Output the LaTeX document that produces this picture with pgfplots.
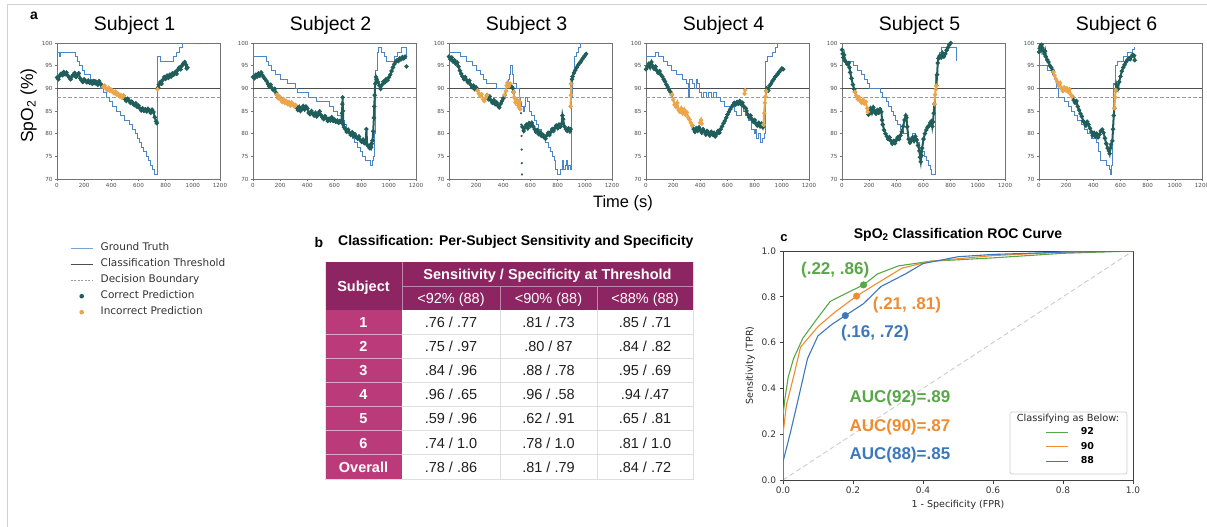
\documentclass[border=0pt]{standalone}
\usepackage{fontspec}
\setmainfont{Liberation Sans}
\newfontfamily\dv{DejaVu Sans}
\usepackage{pgfplots}
\pgfplotsset{compat=1.18}

\definecolor{gtblue}{HTML}{4A86C8}
\definecolor{predteal}{HTML}{1F5E5A}
\definecolor{predorange}{HTML}{EBA54A}
\definecolor{thrgray}{HTML}{4D4D4D}
\definecolor{bndgray}{HTML}{9A9A9A}
\definecolor{hdr}{HTML}{8C2561}
\definecolor{subjc}{HTML}{BB3B7A}
\definecolor{rocgreen}{HTML}{58A847}
\definecolor{rocorange}{HTML}{F08C30}
\definecolor{rocblue}{HTML}{3B78BC}

\pgfplotsset{
  subjax/.style={
    scale only axis, width=163pt, height=136pt,
    xmin=0, xmax=1200, ymin=70, ymax=100,
    xtick={0,200,400,600,800,1000,1200}, ytick={70,75,80,85,90,95,100},
    tick align=outside, xtick pos=bottom, ytick pos=left,
    major tick length=2pt,
    tick style={black!55, line width=0.5pt},
    axis line style={black!55, line width=0.6pt},
    tick label style={font=\dv\fontsize{5.6}{6}\selectfont, text=black!70},
    /pgf/number format/assume math mode=true,
    /pgf/number format/set thousands separator={},
    xticklabel style={yshift=1pt}, yticklabel style={xshift=1pt},
    title style={font=\fontsize{19.5}{22}\selectfont, yshift=-1pt, xshift=-4pt},
    anchor=south west,
    unbounded coords=jump,
  },
  gt/.style={gtblue, line width=0.9pt, const plot, no marks},
  pr/.style={predteal, line width=2pt, mark=*, mark size=1pt},
  wr/.style={predorange, line width=2pt, mark=*, mark size=1pt},
  thr/.style={thrgray, line width=1.6pt, no marks},
  bnd/.style={bndgray, line width=0.9pt, dash pattern=on 3.5pt off 2pt, no marks},
}

\newcommand\trow[5]{%
 \node[anchor=base, text=white, font=\bfseries\fontsize{14.5}{17}\selectfont] at (363.5pt,-#1pt) {#2};
 \node[anchor=base, text=black!88, font=\fontsize{14.5}{17}\selectfont] at (451pt,-#1pt) {#3};
 \node[anchor=base, text=black!88, font=\fontsize{14.5}{17}\selectfont] at (548.5pt,-#1pt) {#4};
 \node[anchor=base, text=black!88, font=\fontsize{14.5}{17}\selectfont] at (645pt,-#1pt) {#5};}

\begin{document}
\begin{tikzpicture}
\path[use as bounding box] (0pt,0pt) rectangle (1207pt,-527pt);
\draw[black!18, line width=0.8pt] (7pt,-527pt) -- (7pt,-4pt) -- (1207pt,-4pt);

% ---------------- panel a ----------------
\node[font=\bfseries\fontsize{14}{16}\selectfont] at (34pt,-16pt) {a};
\node[rotate=90, anchor=base, font=\fontsize{17.5}{20}\selectfont] at (33pt,-105.7pt) {SpO\textsubscript{2} (\%)};
\node[anchor=base, font=\fontsize{16.5}{19}\selectfont] at (623pt,-207.5pt) {Time (s)};

% Subject 1
\begin{axis}[subjax, at={(57pt,-179pt)}, title={Subject 1}]
\addplot[thr] coordinates {(0,90)(1200,90)};
\addplot[bnd] coordinates {(0,88)(1200,88)};
\addplot[gt] coordinates {(0,98)(15,97)(25,98)(135,97)(150,96)(165,95)(185,94)(205,93)(245,92)(285,91)(320,90)(345,89)(365,88)(385,87)(410,86)(440,85)(465,84)(495,83)(530,82)(555,81)(575,80)(590,79)(610,78)(625,77)(640,76)(655,75)(670,74)(690,73)(705,72)(720,71)(740,97)(760,96)(860,97)(880,98)(900,99)(920,100)(1030,100)};
\addplot[pr] coordinates {(0,92.4)(10,92.0)(20,92.8)(30,93.2)(40,92.9)(50,93.6)(60,93.1)(70,93.5)(80,92.8)(90,92.4)(100,92.0)(110,92.6)(120,93.0)(130,93.4)(140,92.5)(150,92.9)(160,93.3)(170,92.2)(180,91.8)(190,91.4)(200,92.0)(210,91.6)(220,91.3)(230,91.7)(240,91.2)(250,91.5)(260,91.0)(270,91.6)(280,91.1)(290,91.4)(300,90.8)(310,91.6)(320,91.0)(330,90.6)(340,90.3)(340,nan)
(490,88.4)(500,87.6)(510,87.2)(520,87.7)(530,87.3)(540,86.8)(550,87.1)(560,86.6)(570,86.3)(580,86.7)(590,85.9)(600,86.2)(610,85.6)(620,85.1)(630,85.6)(640,85.0)(650,85.4)(660,84.9)(670,85.5)(680,85.1)(690,84.6)(700,85.3)(710,84.8)(720,83.6)(730,82.7)(735,82.3)(735,nan)
(745,90.2)(750,90.8)(760,91.4)(770,91.0)(780,91.9)(790,92.5)(800,92.1)(810,92.8)(820,92.3)(830,93.0)(840,92.6)(850,93.3)(860,93.0)(870,93.6)(880,93.2)(890,94.1)(900,94.6)(910,94.2)(920,95.0)(930,95.5)(940,95.8)(950,95.2)(955,94.4)(960,94.6)};
\addplot[wr] coordinates {(340,90.3)(350,90.6)(360,90.0)(370,89.6)(380,90.1)(390,89.4)(400,89.7)(410,89.2)(420,88.9)(430,89.3)(440,88.6)(450,88.8)(460,88.2)(470,88.5)(480,87.9)(490,88.4)(490,nan)(740,89.8)};
\end{axis}

% Subject 2
\begin{axis}[subjax, at={(253pt,-179pt)}, title={Subject 2}]
\addplot[thr] coordinates {(0,90)(1200,90)};
\addplot[bnd] coordinates {(0,88)(1200,88)};
\addplot[gt] coordinates {(0,97)(100,96)(115,95)(135,94)(165,93)(200,92)(250,91)(310,90)(330,89)(410,88)(470,87)(560,86)(590,85)(620,84)(650,83)(675,82)(690,81)(710,80)(730,79)(750,78)(770,77)(790,76)(805,75)(825,74)(862,73)(878,74)(890,75)(895,80)(900,88)(905,94)(915,98)(925,99)(945,98)(965,97)(985,96)(1045,97)(1065,98)(1090,99)(1127,96.5)};
\addplot[pr] coordinates {(0,92.5)(10,92.2)(20,93.0)(30,92.6)(40,93.3)(50,92.8)(60,93.5)(70,92.9)(80,92.4)(90,92.0)(100,91.6)(110,91.0)(120,90.4)(130,90.8)(140,90.0)(150,89.6)(160,89.9)(170,89.0)(175,88.6)(175,nan)
(312,86.3)(320,85.8)(330,85.2)(340,85.9)(350,85.0)(360,85.5)(370,86.1)(380,85.3)(390,86.0)(400,85.6)(410,84.6)(420,84.3)(430,85.0)(440,84.4)(450,84.0)(460,84.6)(470,83.8)(480,84.3)(490,84.9)(500,84.1)(510,83.6)(520,83.2)(530,83.9)(540,83.4)(550,82.8)(560,83.3)(570,82.9)(580,83.6)(590,82.8)(600,83.1)(610,82.6)(620,82.9)(630,82.4)(640,82.8)(650,82.5)(655,84.5)(658,86.5)(660,88.0)(662,85.0)(665,82.0)(670,81.4)(680,81.0)(690,80.4)(700,80.9)(710,80.2)(720,79.7)(730,80.3)(740,79.5)(750,79.9)(760,79.2)(770,78.9)(780,79.4)(790,78.6)(800,78.2)(810,78.7)(820,77.9)(830,78.4)(835,81.0)(840,77.6)(850,77.2)(860,76.8)(865,77.5)(870,77.0)(875,77.8)(880,78.5)(885,80.5)(890,83.5)(893,86.0)(896,88.5)(900,91.0)(905,92.5)(910,92.0)(920,91.4)(930,90.6)(940,89.9)(950,90.8)(960,91.5)(970,91.3)(980,92.0)(990,91.8)(1000,92.4)(1010,93.0)(1020,93.8)(1030,94.6)(1040,95.3)(1050,95.8)(1060,96.2)(1070,96.0)(1080,96.6)(1090,96.4)(1100,96.9)(1110,96.6)(1120,97.0)(1120,nan)(1130,94.8)};
\addplot[wr] coordinates {(175,88.6)(185,87.8)(195,88.2)(205,87.4)(215,87.0)(225,87.6)(235,86.8)(245,87.2)(255,86.5)(265,87.0)(275,86.2)(285,86.9)(295,86.4)(305,86.0)(312,86.3)};
\end{axis}

% Subject 3
\begin{axis}[subjax, at={(449pt,-179pt)}, title={Subject 3}]
\addplot[thr] coordinates {(0,90)(1200,90)};
\addplot[bnd] coordinates {(0,88)(1200,88)};
\addplot[gt] coordinates {(0,98)(85,97)(130,96)(175,95)(205,94)(230,93)(255,92)(275,91)(350,90)(420,91)(435,92)(445,93)(455,95)(465,93)(475,91)(500,90)(515,88)(525,87)(535,86)(545,85)(555,86)(565,88)(580,87)(595,85)(610,84)(630,83)(645,82)(660,81)(680,80)(695,79)(710,78)(730,77)(750,76)(765,75)(775,74)(785,72)(795,71)(820,72)(835,74)(845,72)(855,73)(862,74)(870,72)(880,73)(893,72)(900,80)(905,88)(910,93)(920,97)(935,98)(950,99)(965,100)(1010,100)};
\addplot[pr] coordinates {(0,97.0)(10,96.4)(20,96.8)(30,95.9)(40,96.2)(50,95.4)(60,95.7)(70,94.8)(80,93.9)(90,93.2)(100,92.6)(110,92.0)(120,92.5)(130,91.8)(140,91.3)(150,91.7)(160,90.8)(170,90.2)(180,90.6)(190,89.8)(200,90.2)(210,89.5)(210,nan)
(280,88.5)(290,87.6)(300,88.2)(310,87.3)(320,86.8)(330,87.4)(340,86.5)(350,86.9)(360,86.2)(370,85.8)(380,86.6)(390,87.2)(400,87.8)(410,88.5)(410,nan)
(450,91.0)(460,90.4)(470,90.0)(475,89.2)(475,nan)
(540,81.5)(550,80.6)(560,81.4)(570,82.0)(580,81.2)(590,82.3)(600,81.7)(610,82.4)(620,81.6)(630,81.0)(640,80.4)(650,80.8)(660,79.9)(670,80.3)(680,79.5)(690,79.8)(700,79.2)(710,78.9)(720,79.6)(730,80.2)(740,79.7)(750,80.4)(760,81.0)(770,80.6)(780,81.3)(790,81.8)(800,81.2)(810,82.0)(820,81.5)(830,82.2)(835,84.0)(840,83.2)(850,81.6)(860,81.0)(870,80.6)(880,81.2)(890,80.5)(895,81.0)(895,nan)
(900,91.0)(905,92.0)(910,92.6)(920,93.4)(930,94.0)(940,94.6)(950,95.1)(960,95.5)(970,95.9)(980,96.4)(990,96.8)(1000,97.2)(1010,97.6)};
\addplot[predteal, only marks, mark=*, mark size=0.9pt] coordinates {(530,84.5)(532,82)(534,79.5)(535,76.5)(536,73.5)(537,71)};
\addplot[wr] coordinates {(210,89.5)(220,88.8)(230,88.3)(240,88.7)(250,87.6)(260,87.2)(270,87.9)(280,88.5)(280,nan)
(410,88.5)(420,89.4)(425,90.6)(430,91.2)(440,90.5)(450,91.0)(450,nan)
(475,89.2)(480,88.0)(490,86.8)(500,87.5)(510,86.2)(515,85.8)(520,87.0)(525,85.4)(525,nan)
(895,86.0)(898,88.5)(900,91.0)};
\end{axis}

% Subject 4
\begin{axis}[subjax, at={(646pt,-179pt)}, title={Subject 4}]
\addplot[thr] coordinates {(0,90)(1200,90)};
\addplot[bnd] coordinates {(0,88)(1200,88)};
\addplot[gt] coordinates {(0,97)(70,98)(90,97)(130,96)(155,95)(190,94)(225,93)(265,92)(300,91)(310,88)(318,92)(340,91)(355,90)(368,92)(380,91)(395,89)(410,88)(425,89)(445,88)(460,89)(480,88)(500,89)(520,88)(545,87)(575,86)(650,85)(665,84)(700,86)(715,85)(735,84)(755,83)(775,81)(795,80)(805,81)(815,79)(830,80)(845,78)(860,79)(870,80)(880,96)(895,97)(930,98)(955,99)(970,100)(1010,100)};
\addplot[pr] coordinates {(0,94.2)(10,94.8)(20,95.4)(30,94.6)(40,95.8)(50,94.9)(60,94.3)(70,94.8)(80,93.9)(90,93.4)(100,93.8)(110,93.0)(120,92.6)(130,92.0)(140,91.5)(150,90.8)(160,90.3)(170,89.6)(180,89.2)(190,88.6)(190,nan)
(340,81.8)(350,81.0)(360,80.4)(370,81.2)(380,80.6)(390,81.4)(400,80.8)(410,80.2)(420,81.0)(430,80.5)(440,79.8)(450,80.6)(460,80.1)(470,79.6)(480,80.4)(490,79.8)(500,80.2)(510,79.4)(520,79.9)(530,80.6)(540,80.2)(550,81.0)(560,81.6)(570,82.3)(580,82.8)(590,83.5)(600,84.2)(610,84.8)(620,85.4)(630,85.9)(640,86.3)(650,86.8)(660,86.4)(670,87.0)(680,86.6)(690,87.2)(700,86.5)(710,86.8)(720,86.0)(735,85.6)(740,85.0)(750,84.2)(760,83.6)(770,84.0)(780,83.2)(790,82.6)(800,83.0)(810,82.2)(820,81.8)(830,82.4)(840,81.6)(850,82.2)(860,81.4)(865,82.0)(865,nan)
(885,89.4)(890,90.0)(900,89.5)(910,90.6)(920,91.0)(930,91.6)(940,92.0)(950,92.5)(960,92.8)(970,93.2)(980,93.6)(990,94.0)(1000,94.4)(1010,94.2)};
\addplot[wr] coordinates {(190,88.6)(200,87.5)(210,86.4)(220,85.9)(230,86.8)(240,85.2)(250,84.8)(260,85.6)(270,84.5)(280,85.3)(290,84.2)(300,84.7)(310,83.6)(320,83.1)(330,82.4)(340,81.8)(340,nan)
(398,82.4)(405,83.0)(410,82.2)(410,nan)
(725,88.8)(730,89.6)(730,nan)
(865,82.0)(870,84.5)(875,86.8)(880,88.2)(885,89.4)};
\end{axis}

% Subject 5
\begin{axis}[subjax, at={(842pt,-179pt)}, title={Subject 5}]
\addplot[thr] coordinates {(0,90)(1200,90)};
\addplot[bnd] coordinates {(0,88)(1200,88)};
\addplot[gt] coordinates {(0,97)(8,96)(85,95)(115,94)(140,93)(165,92)(185,91)(200,90)(280,89)(300,88)(325,87)(345,86)(365,85)(380,84)(395,83)(410,82)(430,81)(455,80)(490,79)(520,80)(540,79)(555,78)(570,77)(590,76)(610,75)(625,74)(640,73)(650,72)(660,71)(685,80)(690,93)(700,97)(715,98)(735,99)(830,99)(840,96)};
\addplot[pr] coordinates {(0,98.5)(5,97.6)(10,96.8)(15,97.4)(20,96.2)(30,95.8)(40,95.3)(50,95.6)(55,94.6)(60,93.5)(70,92.2)(80,90.8)(90,89.8)(95,89.2)(95,nan)
(195,84.2)(200,84.8)(210,85.6)(220,84.6)(230,85.8)(240,85.0)(250,84.4)(260,85.2)(270,84.6)(280,85.4)(290,84.8)(295,83.0)(300,82.0)(310,80.8)(320,80.0)(330,79.4)(340,78.8)(350,79.2)(360,78.4)(370,77.8)(380,78.4)(390,77.9)(400,78.6)(410,79.2)(420,78.8)(430,79.6)(440,80.4)(450,81.6)(460,83.0)(470,84.0)(475,83.5)(480,81.5)(490,78.8)(500,78.0)(510,78.6)(520,79.2)(530,78.4)(540,79.4)(550,78.6)(560,77.4)(570,76.2)(575,74.8)(580,73.8)(585,75.2)(590,76.8)(600,78.8)(610,80.0)(620,80.8)(630,81.4)(640,81.8)(650,82.4)(660,82.8)(665,81.6)(670,82.6)(675,84.5)(680,86.5)(680,nan)
(695,90.6)(700,93.0)(705,95.6)(710,96.6)(720,97.2)(730,96.8)(740,97.8)(750,97.0)(760,97.6)(770,98.4)(780,99.0)(790,99.6)(800,100)};
\addplot[wr] coordinates {(95,89.2)(105,88.4)(115,87.6)(125,88.0)(135,87.2)(145,86.8)(155,87.5)(165,86.6)(175,87.0)(185,85.6)(190,84.8)(190,nan)
(680,86.5)(685,88.6)(690,89.8)(695,90.6)};
\end{axis}

% Subject 6
\begin{axis}[subjax, at={(1039pt,-179pt)}, title={Subject 6}]
\addplot[thr] coordinates {(0,90)(1200,90)};
\addplot[bnd] coordinates {(0,88)(1200,88)};
\addplot[gt] coordinates {(0,95)(60,94)(100,93)(115,92)(130,90)(140,88)(185,87)(215,86)(240,85)(260,84)(285,83)(310,82)(335,81)(360,80)(385,79)(420,78)(440,76)(455,74)(500,73)(515,72)(525,71)(532,73)(540,82)(550,91)(560,95)(580,96)(620,97)(650,98)(690,98.5)(700,99)(705,99)};
\addplot[pr] coordinates {(0,98.0)(5,98.8)(10,99.3)(15,98.6)(20,99.6)(25,98.9)(30,98.3)(40,97.6)(45,98.2)(50,97.0)(60,96.3)(70,95.8)(80,95.0)(90,94.6)(100,94.0)(105,93.6)(105,nan)
(245,88.2)(255,87.4)(265,86.8)(275,87.2)(285,86.0)(295,85.2)(305,84.4)(315,83.8)(325,82.8)(335,82.4)(345,81.8)(355,82.6)(365,82.0)(375,81.2)(385,80.4)(395,79.6)(405,80.2)(415,79.4)(425,80.0)(435,79.2)(445,79.8)(455,80.6)(465,80.9)(475,80.2)(485,79.0)(495,77.8)(505,76.8)(515,76.2)(520,75.6)(525,76.8)(530,77.6)(540,78.4)(545,81.0)(550,84.0)(555,85.6)(555,nan)
(565,89.6)(570,90.8)(575,90.2)(580,89.8)(590,91.4)(600,92.6)(610,93.8)(620,94.6)(630,95.2)(640,95.8)(650,96.2)(660,96.6)(670,96.4)(680,97.0)(690,97.4)(700,97.2)(705,96.2)};
\addplot[wr] coordinates {(105,93.6)(115,92.8)(125,92.0)(135,91.4)(145,90.6)(155,91.2)(165,90.0)(175,89.4)(185,90.2)(195,89.6)(205,90.0)(215,89.2)(225,89.8)(235,88.6)(245,88.2)(245,nan)
(555,85.6)(560,88.0)(565,89.6)};
\end{axis}

% ---------------- legend of panel a ----------------
\begin{axis}[at={(70pt,-240pt)}, anchor=north west, hide axis, scale only axis, width=10pt, height=10pt,
  xmin=0, xmax=1, ymin=0, ymax=1,
  legend style={at={(0,1)}, anchor=north west, draw=none, fill=none, inner sep=0pt,
    font=\dv\fontsize{10.5}{12}\selectfont, text=black!80, legend cell align=left,
    nodes={text height=7.8pt, text depth=2.4pt, inner ysep=2.9pt, inner xsep=0pt}}]
\addlegendimage{legend image code/.code={\draw[gtblue!75, line width=1pt] (0pt,0pt)--(22pt,0pt); \path[draw=none, fill=none] (0pt,0pt)--(30pt,0pt);}}
\addlegendentry{Ground Truth}
\addlegendimage{legend image code/.code={\draw[thrgray, line width=1pt] (0pt,0pt)--(22pt,0pt); \path[draw=none, fill=none] (0pt,0pt)--(30pt,0pt);}}
\addlegendentry{Classification Threshold}
\addlegendimage{legend image code/.code={\draw[bndgray, line width=0.7pt, dash pattern=on 2pt off 1.5pt] (0pt,0pt)--(22pt,0pt); \path[draw=none, fill=none] (0pt,0pt)--(30pt,0pt);}}
\addlegendentry{Decision Boundary}
\addlegendimage{legend image code/.code={\fill[predteal, draw=none] (11pt,0pt) circle (2.3pt); \path[draw=none, fill=none] (0pt,0pt)--(30pt,0pt);}}
\addlegendentry{Correct Prediction}
\addlegendimage{legend image code/.code={\fill[predorange, draw=none] (11pt,0pt) circle (2.3pt); \path[draw=none, fill=none] (0pt,0pt)--(30pt,0pt);}}
\addlegendentry{Incorrect Prediction}
\end{axis}

% ---------------- panel b: table ----------------
\node[font=\bfseries\fontsize{14}{16}\selectfont] at (319pt,-242pt) {b};
\node[anchor=west, inner sep=0pt, font=\bfseries\fontsize{14}{16}\selectfont] at (338pt,-242pt) {Classification: Per-Subject Sensitivity and Specificity};
\fill[hdr] (325pt,-262pt) rectangle (693pt,-310pt);
\fill[subjc] (325pt,-310pt) rectangle (402pt,-479pt);
\draw[white!45!hdr, line width=0.8pt] (402pt,-262pt) -- (402pt,-310pt);
\draw[white!45!hdr, line width=0.8pt] (402pt,-286pt) -- (693pt,-286pt);
\draw[white!45!hdr, line width=0.8pt] (500pt,-286pt) -- (500pt,-310pt);
\draw[white!45!hdr, line width=0.8pt] (597pt,-286pt) -- (597pt,-310pt);
\foreach \yy in {334.14,358.29,382.43,406.57,430.71,454.86}{
  \draw[white!55!subjc, line width=0.8pt] (325pt,-\yy pt) -- (402pt,-\yy pt);
  \draw[black!13, line width=0.8pt] (402pt,-\yy pt) -- (693pt,-\yy pt);
}
\draw[black!13, line width=0.8pt] (500pt,-310pt) -- (500pt,-479pt);
\draw[black!13, line width=0.8pt] (597pt,-310pt) -- (597pt,-479pt);
\draw[black!13, line width=0.8pt] (325pt,-479pt) -- (693pt,-479pt) -- (693pt,-262pt);
\draw[black!10, line width=0.6pt] (325pt,-262pt) -- (325pt,-479pt);
\node[anchor=base, text=white, font=\bfseries\fontsize{14.5}{17}\selectfont] at (363.5pt,-291.2pt) {Subject};
\node[anchor=base, text=white, font=\bfseries\fontsize{14.5}{17}\selectfont] at (547.5pt,-279.2pt) {Sensitivity / Specificity at Threshold};
\node[anchor=base, text=white, font=\fontsize{14.5}{17}\selectfont] at (451pt,-303.2pt) {<92\% (88)};
\node[anchor=base, text=white, font=\fontsize{14.5}{17}\selectfont] at (548.5pt,-303.2pt) {<90\% (88)};
\node[anchor=base, text=white, font=\fontsize{14.5}{17}\selectfont] at (645pt,-303.2pt) {<88\% (88)};
\trow{327.3}{1}{.76 / .77}{.81 / .73}{.85 / .71}
\trow{351.4}{2}{.75 / .97}{.80 / 87}{.84 / .82}
\trow{375.6}{3}{.84 / .96}{.88 / .78}{.95 / .69}
\trow{399.7}{4}{.96 / .65}{.96 / .58}{.94 /.47}
\trow{423.8}{5}{.59 / .96}{.62 / .91}{.65 / .81}
\trow{448.0}{6}{.74 / 1.0}{.78 / 1.0}{.81 / 1.0}
\trow{472.1}{Overall}{.78 / .86}{.81 / .79}{.84 / .72}

% ---------------- panel c: ROC ----------------
\node[font=\bfseries\fontsize{13}{15}\selectfont] at (784pt,-238pt) {c};
\draw[black!20, rounded corners=2pt, fill=white, line width=0.7pt] (1010pt,-412pt) rectangle (1127pt,-474pt);
\node[font=\dv\fontsize{9.8}{12}\selectfont, text=black!85] at (1068pt,-419pt) {Classifying as Below:};
\begin{axis}[at={(783pt,-480pt)}, anchor=south west, scale only axis, width=350pt, height=229pt,
  xmin=0, xmax=1, ymin=0, ymax=1,
  xtick={0,0.2,0.4,0.6,0.8,1}, ytick={0,0.2,0.4,0.6,0.8,1},
  tick align=outside, xtick pos=bottom, ytick pos=left, major tick length=3.5pt,
  tick style={black!75, line width=0.7pt}, axis line style={black!75, line width=0.7pt},
  tick label style={font=\dv\fontsize{9}{10}\selectfont, text=black!80},
  xticklabel style={/pgf/number format/.cd, fixed, fixed zerofill, precision=1, assume math mode=true},
  yticklabel style={/pgf/number format/.cd, fixed, fixed zerofill, precision=1, assume math mode=true},
  xlabel={1 - Specificity (FPR)}, ylabel={Sensitivity (TPR)},
  label style={font=\dv\fontsize{9.5}{11}\selectfont, text=black!85},
  title={\textbf{SpO\textsubscript{2} Classification ROC Curve}},
  title style={font=\fontsize{14}{16}\selectfont},
  legend style={at={(0.7486,0.241)}, anchor=north west, draw=none, fill=none, inner sep=0pt,
    font=\dv\bfseries\fontsize{9.5}{11}\selectfont, legend cell align=left,
    nodes={text height=7pt, text depth=2pt, inner ysep=2.75pt, inner xsep=0pt}},
  legend image code/.code={\draw[#1] (0pt,0pt)--(22pt,0pt); \path[draw=none, fill=none] (0pt,0pt)--(35pt,0pt);},
]
\addplot[black!20, line width=0.9pt, dash pattern=on 5pt off 3pt, forget plot] coordinates {(0,0)(1,1)};
\addplot[rocgreen, line width=1.1pt] coordinates {(0,0)(0,0.28)(0.005,0.35)(0.015,0.45)(0.03,0.53)(0.057,0.62)(0.10,0.71)(0.135,0.78)(0.18,0.815)(0.23,0.852)(0.27,0.90)(0.33,0.935)(0.42,0.955)(0.6,0.97)(0.8,0.99)(1,1)};
\addlegendentry{92}
\addplot[rocorange, line width=1.1pt] coordinates {(0,0)(0,0.2)(0.01,0.33)(0.03,0.45)(0.05,0.58)(0.1,0.67)(0.15,0.735)(0.21,0.803)(0.27,0.86)(0.34,0.925)(0.42,0.955)(0.6,0.98)(0.8,0.995)(1,1)};
\addlegendentry{90}
\addplot[rocblue, line width=1.1pt] coordinates {(0,0)(0,0.08)(0.02,0.2)(0.04,0.33)(0.07,0.53)(0.1,0.63)(0.14,0.68)(0.178,0.718)(0.23,0.77)(0.28,0.845)(0.35,0.90)(0.4,0.945)(0.5,0.975)(0.6,0.985)(0.8,0.995)(1,1)};
\addlegendentry{88}
\addplot[rocgreen, only marks, mark=*, mark size=3.3pt, forget plot] coordinates {(0.23,0.852)};
\addplot[rocorange, only marks, mark=*, mark size=3.3pt, forget plot] coordinates {(0.21,0.803)};
\addplot[rocblue, only marks, mark=*, mark size=3.3pt, forget plot] coordinates {(0.178,0.718)};
\node[text=rocgreen, font=\bfseries\fontsize{17}{19}\selectfont] at (axis cs:0.149,0.917) {(.22, .86)};
\node[text=rocorange, font=\bfseries\fontsize{17}{19}\selectfont] at (axis cs:0.354,0.764) {(.21, .81)};
\node[text=rocblue, font=\bfseries\fontsize{17}{19}\selectfont] at (axis cs:0.263,0.642) {(.16, .72)};
\node[text=rocgreen, font=\bfseries\fontsize{17}{19}\selectfont] at (axis cs:0.334,0.358) {AUC(92)=.89};
\node[text=rocorange, font=\bfseries\fontsize{17}{19}\selectfont] at (axis cs:0.334,0.231) {AUC(90)=.87};
\node[text=rocblue, font=\bfseries\fontsize{17}{19}\selectfont] at (axis cs:0.334,0.109) {AUC(88)=.85};
\end{axis}
\end{tikzpicture}
\end{document}
